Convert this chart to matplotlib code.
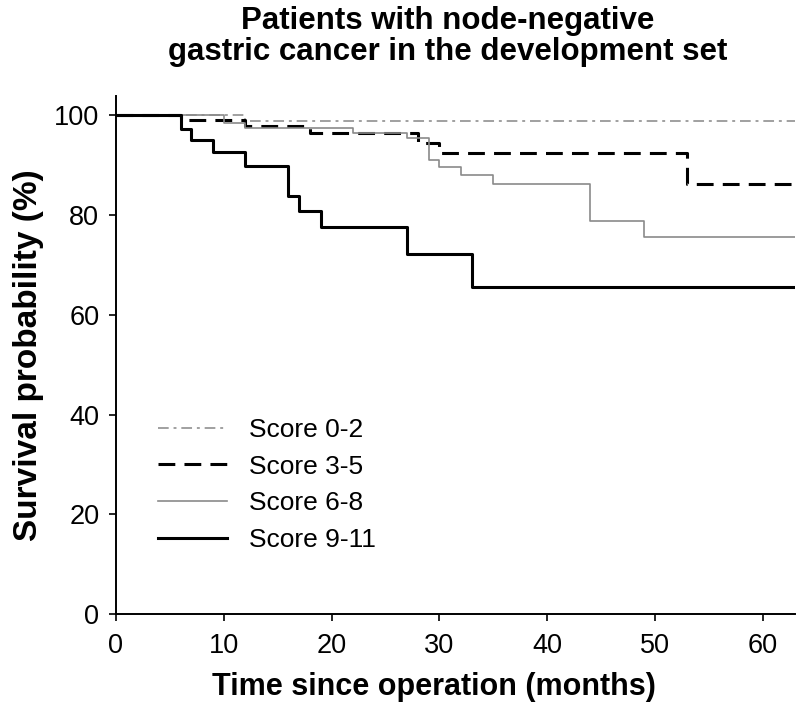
import matplotlib
matplotlib.use("Agg")
import matplotlib.pyplot as plt

plt.rcParams['font.family'] = ['Liberation Sans', 'DejaVu Sans']

# ---- data (months, survival %) ----
labels = ["Score 0-2", "Score 3-5", "Score 6-8", "Score 9-11"]
t_02 = [0, 12, 63]
s_02 = [100, 98.8, 98.8]
t_35 = [0, 6, 12, 18, 28, 30, 53, 63]
s_35 = [100, 99.0, 97.8, 96.4, 94.5, 92.5, 86.3, 86.3]
t_68 = [0, 10, 12, 22, 27, 29, 30, 32, 35, 44, 49, 63]
s_68 = [100, 98.5, 97.5, 96.5, 95.5, 91.0, 89.7, 88.1, 86.3, 78.9, 75.7, 75.7]
t_911 = [0, 6, 7, 9, 12, 16, 17, 19, 27, 33, 63]
s_911 = [100, 97.3, 95.1, 92.7, 89.8, 83.9, 80.9, 77.7, 72.2, 65.5, 65.5]
xticks = [0, 10, 20, 30, 40, 50, 60]
yticks = [0, 20, 40, 60, 80, 100]

W, H = 799, 708
fig = plt.figure(figsize=(W / 100, H / 100), dpi=100)
ax = fig.add_axes([116 / W, 1 - 614 / H, (795 - 116) / W, (614 - 96) / H])

ax.step(t_02, s_02, where='post', color='#a0a0a0', lw=1.4, dashes=(5.5, 2.5, 1.5, 2.5), label=labels[0])
ax.step(t_35, s_35, where='post', color='black', lw=2.2, dashes=(5.5, 3), label=labels[1])
ax.step(t_68, s_68, where='post', color='#8a8a8a', lw=1.2, label=labels[2])
ax.step(t_911, s_911, where='post', color='black', lw=2.2, label=labels[3])

ax.set_xlim(0, 63)
ax.set_ylim(0, 103.9)
ax.set_xticks(xticks)
ax.set_yticks(yticks)
ax.spines['top'].set_visible(False)
ax.spines['right'].set_visible(False)
for s in ['left', 'bottom']:
    ax.spines[s].set_linewidth(1.4)
ax.tick_params(axis='both', labelsize=19.5, width=1.2, length=5, direction='out')
ax.tick_params(axis='y', pad=7)
ax.tick_params(axis='x', pad=9)

ax.set_xlabel("Time since operation (months)", fontsize=22, fontweight='bold')
ax.xaxis.set_label_coords((434 - 116) / (795 - 116), -0.112)
ax.set_ylabel("Survival probability (%)", fontsize=24, fontweight='bold', labelpad=7)
fig.text(448 / W, 1 - 6 / H, "Patients with node-negative\ngastric cancer in the development set",
         fontsize=22.5, fontweight='bold', ha='center', va='top', linespacing=1.05)

leg = ax.legend(loc='upper left', bbox_to_anchor=(158 / W, 1 - 418 / H),
                bbox_transform=fig.transFigure, frameon=False, fontsize=19,
                borderpad=0, borderaxespad=0,
                handlelength=2.6, handletextpad=0.85, labelspacing=0.48)

fig.savefig("out.png", dpi=100)
